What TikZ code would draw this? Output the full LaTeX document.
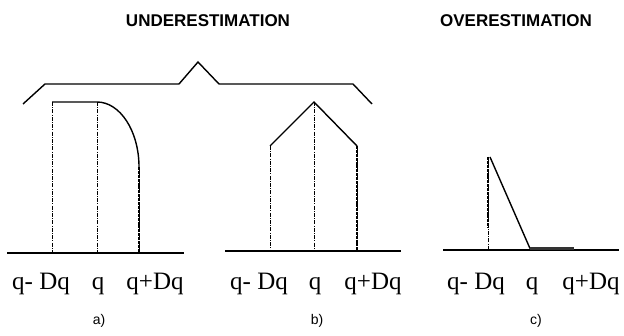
\documentclass[tikz,border=0pt]{standalone}
\usepackage{fontspec}
\newfontfamily\titlefont{Liberation Sans}
\newfontfamily\labfont{Liberation Serif}
\begin{document}
\begin{tikzpicture}[x=1pt,y=-1pt,
  solidln/.style={line width=1.4pt, line join=miter},
  baseln/.style={line width=1.4pt},
  thinguide/.style={line width=0.6pt, dash pattern=on 4pt off 1.2pt on 1pt off 1.2pt},
  thickguide/.style={line width=2.6pt, dash pattern=on 3pt off 0.9pt},
  title/.style={font=\titlefont\bfseries\fontsize{17}{20}\selectfont, inner sep=0pt},
  qlab/.style={font=\labfont\fontsize{25}{30}\selectfont, anchor=base, inner sep=0pt},
  caption/.style={font=\titlefont\fontsize{14}{17}\selectfont, inner sep=0pt}
]
\useasboundingbox (0,0) rectangle (624,336);

% titles
\node[title] (under) at (208,21) {UNDERESTIMATION};
\node[title] (over) at (516,21) {OVERESTIMATION};

% brace
\coordinate (b1) at (23,104);
\coordinate (b2) at (45,84);
\coordinate (b3) at (179,84);
\coordinate (b4) at (198,62);
\coordinate (b5) at (219,84);
\coordinate (b6) at (353,84);
\coordinate (b7) at (372,104);
\draw[solidln] (b1) -- (b2) -- (b3) -- (b4) -- (b5) -- (b6) -- (b7);

% ---------- panel a ----------
\coordinate (aL) at (7,253);
\coordinate (aR) at (184,253);
\draw[baseln] (aL) -- (aR);
\coordinate (a1) at (52,102);
\coordinate (a2) at (97,102);
\coordinate (a3) at (139,167);
\coordinate (a1b) at (52,253);
\coordinate (a2b) at (97,253);
\coordinate (a3b) at (139,253);
\draw[solidln] (a1) -- (a2) .. controls (120,102) and (139,131) .. (a3);
\draw[thinguide] (a1) -- (a1b);
\draw[thinguide] (a2) -- (a2b);
\draw[thinguide] (a3) -- (a3b);
\draw[thickguide] (a3) -- (a3b);
\node[qlab] (aq1) at (41,290) {q- Dq};
\node[qlab] (aq2) at (98,290) {q};
\node[qlab] (aq3) at (155,290) {q+Dq};
\node[caption] (acap) at (99,321) {a)};

% ---------- panel b ----------
\coordinate (bL) at (225,251);
\coordinate (bR) at (401,251);
\draw[baseln] (bL) -- (bR);
\coordinate (p1) at (270,146);
\coordinate (p2) at (314,102);
\coordinate (p3) at (357,146);
\coordinate (p1b) at (270,251);
\coordinate (p2b) at (314,251);
\coordinate (p3b) at (357,251);
\draw[solidln] (p1) -- (p2) -- (p3);
\draw[thinguide] (p1) -- (p1b);
\draw[thinguide] (p2) -- (p2b);
\draw[thinguide] (p3) -- (p3b);
\draw[thickguide] (p3) -- (p3b);
\node[qlab] (bq1) at (259,290) {q- Dq};
\node[qlab] (bq2) at (315,290) {q};
\node[qlab] (bq3) at (373,290) {q+Dq};
\node[caption] (bcap) at (317,321) {b)};

% ---------- panel c ----------
\coordinate (cL) at (443,250);
\coordinate (cR) at (619,250);
\draw[baseln] (cL) -- (cR);
\coordinate (c1) at (488,157);
\coordinate (c1m) at (488,228);
\coordinate (c1b) at (488,250);
\coordinate (c2) at (530,248.5);
\coordinate (c3) at (574,248.5);
\draw[thinguide] (c1) -- (c1b);
\draw[thickguide] (c1) -- (c1m);
\draw[solidln] (490,157) -- (c2);
\draw[line width=2.2pt, black!80] (c2) -- (c3);
\node[qlab] (cq1) at (476,290) {q- Dq};
\node[qlab] (cq2) at (532,290) {q};
\node[qlab] (cq3) at (591,290) {q+Dq};
\node[caption] (ccap) at (536,321) {c)};
\end{tikzpicture}
\end{document}
